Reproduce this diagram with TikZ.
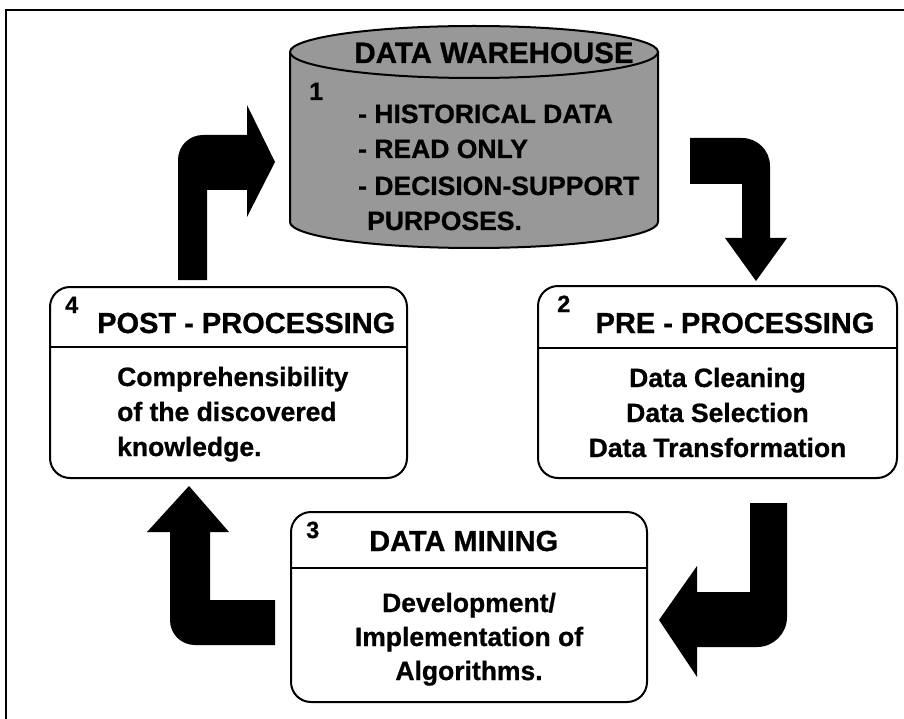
\documentclass[tikz,border=0pt]{standalone}
\usepackage{fontspec}
\setmainfont{Liberation Sans}[BoldFeatures={FakeBold=0.8}]
\definecolor{cylgray}{RGB}{152,152,152}
\begin{document}
\begin{tikzpicture}[x=1pt,y=-1pt,
  procbox/.style={draw, line width=2pt, rounded corners=20pt, fill=white, inner sep=0pt},
  headtxt/.style={font=\fontsize{29}{35}\selectfont\bfseries, inner sep=0pt},
  bodytxt/.style={font=\fontsize{26.5}{35}\selectfont\bfseries, inner sep=0pt},
  numtxt/.style={font=\fontsize{23.5}{25}\selectfont\bfseries, inner sep=0pt},
  seprule/.style={line width=2pt},
  blockarrow/.style={fill=black},
  cylline/.style={line width=2pt, fill=cylgray}
]
\useasboundingbox[fill=white] (0,0) rectangle (904,719);
% frame
\draw[line width=2.5pt] (6,719) -- (6,10) -- (904,10);

% cylinder (data warehouse)
\coordinate (cyl) at (474,137);
\filldraw[cylline] (290,52) -- (290,222) arc[start angle=180,end angle=360,x radius=184pt,y radius=26pt] -- (658,52) -- cycle;
\filldraw[cylline] (474,52) ellipse[x radius=184pt,y radius=26pt];
\node[headtxt, font=\fontsize{29.5}{35}\selectfont\bfseries, anchor=base] (t1) at (494,63) {DATA WAREHOUSE};
\node[numtxt, font=\fontsize{25}{25}\selectfont\bfseries, anchor=base west] (n1) at (309,100) {1};
\node[bodytxt, anchor=base west] (l1) at (358,123) {- HISTORICAL DATA};
\node[bodytxt, anchor=base west] (l2) at (358,158) {- READ ONLY};
\node[bodytxt, anchor=base west] (l3) at (358,195) {- DECISION-SUPPORT};
\node[bodytxt, anchor=base west] (l4) at (367,230) {PURPOSES.};

% box 2
\node[procbox, minimum width=359pt, minimum height=192pt] (b2) at (717.5,382) {};
\draw[seprule] (b2.west |- 0,348) -- (b2.east |- 0,348);
\node[numtxt, anchor=base west] (n2) at (557,312) {2};
\node[headtxt, anchor=base] (h2) at (735,333) {PRE - PROCESSING};
\node[bodytxt, anchor=base] (p21) at (717.5,387) {Data Cleaning};
\node[bodytxt, anchor=base] (p22) at (717.5,422) {Data Selection};
\node[bodytxt, anchor=base] (p23) at (717.5,457) {Data Transformation};

% box 4
\node[procbox, minimum width=357pt, minimum height=191pt] (b4) at (228.5,382.5) {};
\draw[seprule] (b4.west |- 0,347) -- (b4.east |- 0,347);
\node[numtxt, anchor=base west] (n4) at (65,313) {4};
\node[headtxt, anchor=base west] (h4) at (97,333) {POST - PROCESSING};
\node[bodytxt, anchor=base west] (p41) at (117,386) {Comprehensibility};
\node[bodytxt, anchor=base west] (p42) at (117,421) {of the discovered};
\node[bodytxt, anchor=base west] (p43) at (117,456) {knowledge.};

% box 3
\node[procbox, minimum width=356pt, minimum height=190pt] (b3) at (469,607) {};
\draw[seprule] (b3.west |- 0,568) -- (b3.east |- 0,568);
\node[numtxt, anchor=base west] (n3) at (306,538) {3};
\node[headtxt, anchor=base west] (h3) at (369,551) {DATA MINING};
\node[bodytxt, anchor=base] (p31) at (469,612) {Development/};
\node[bodytxt, anchor=base] (p32) at (469,646) {Implementation of};
\node[bodytxt, anchor=base] (p33) at (469,680) {Algorithms.};

% block arrows
% 4 -> 1
\fill[blockarrow] (178,280) -- (178,160) .. controls (178,146) and (189,135) .. (203,135)
  -- (247,135) -- (247,105) -- (275,162) -- (247,217) -- (247,190) -- (207,190) -- (207,280) -- cycle;
% 1 -> 2
\fill[blockarrow] (690,138) -- (742,138) .. controls (757.5,138) and (770,150.5) .. (770,166)
  -- (770,238) -- (787,238) -- (756,281) -- (725,238) -- (742,238) -- (742,184) -- (690,184) -- cycle;
% 2 -> 3
\fill[blockarrow] (750,503) -- (787,503) -- (787,617) .. controls (787,633.6) and (773.6,647) .. (757,647)
  -- (697,647) -- (697,677) -- (659,620) -- (697,566) -- (697,592) -- (750,592) -- cycle;
% 3 -> 4
\fill[blockarrow] (275,600) -- (275,645) -- (195,645) .. controls (181,645) and (170,634) .. (170,620)
  -- (170,532) -- (147,532) -- (189,486) -- (229,532) -- (210,532) -- (210,600) -- cycle;
\end{tikzpicture}
\end{document}
